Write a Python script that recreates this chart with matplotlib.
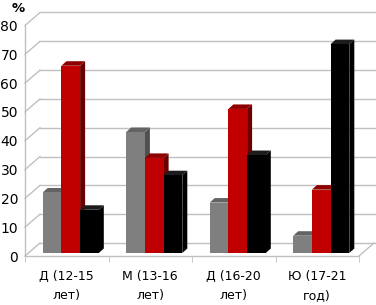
import matplotlib
matplotlib.use('Agg')
import matplotlib.pyplot as plt
from matplotlib.patches import Polygon

# data
categories = ['Д (12-15\nлет)', 'М (13-16\nлет)', 'Д (16-20\nлет)', 'Ю (17-21\nгод)']
gray_vals = [21, 42, 17.5, 6]
red_vals = [65, 33, 50, 22]
black_vals = [15, 27, 34, 72.5]
yticks = [0, 10, 20, 30, 40, 50, 60, 70, 80]

# colours: front, side, top
styles = [('#7f7f7f', '#4f4f4f', '#636363'),
          ('#c00000', '#6a0000', '#8e0000'),
          ('#000000', '#000000', '#1c1c1c')]

W, H = 376, 305
fig = plt.figure(figsize=(W / 100, H / 100), dpi=100)
# front plane of the 3d box in pixels: x 25..359, y 256 (0) .. 25.5 (80)
ax = fig.add_axes([25 / W, (H - 256) / H, 334 / W, 230.5 / H])
ax.set_xlim(0, 4)
ax.set_ylim(0, 80)
for s in ax.spines.values():
    s.set_visible(False)

px = 4 / 334.0        # one pixel in x data units
py = 80 / 230.5       # one pixel in y data units
wx, wy = 15 * px, 13 * py       # wall depth
bx, by = 4 * px, 3 * py         # bar front offset
sx, sy = 5 * px, 4.5 * py       # bar depth
grid = '#c0c0c0'

# back wall and left wall grid lines
for v in yticks:
    ax.plot([wx, 4 + 20 * px], [v + wy, v + wy], color=grid, lw=1, clip_on=False, zorder=1)
    ax.plot([0, wx], [v, v + wy], color=grid, lw=1, clip_on=False, zorder=1)
# front vertical axis, floor
ax.plot([0, 0], [0, 80], color=grid, lw=1, clip_on=False, zorder=1)
ax.plot([0, 4], [0, 0], color=grid, lw=1, clip_on=False, zorder=1)
ax.plot([4, 4 + wx], [0, wy], color=grid, lw=1, clip_on=False, zorder=1)

bw = 0.224
n = 0
for k in range(len(categories)):
    for i, vals in enumerate([gray_vals, red_vals, black_vals]):
        front, side, top = styles[i]
        v = vals[k]
        x0 = k + 0.5 + (i - 1.5) * bw + bx
        x1 = x0 + bw
        y0 = by
        y1 = v + by
        z = 5 + n
        ax.add_patch(Polygon([(x1, y0), (x1 + sx, y0 + sy), (x1 + sx, y1 + sy), (x1, y1)],
                             closed=True, facecolor=side, edgecolor='none', zorder=z, clip_on=False))
        ax.add_patch(Polygon([(x0, y1), (x1, y1), (x1 + sx, y1 + sy), (x0 + sx, y1 + sy)],
                             closed=True, facecolor=top, edgecolor='none', zorder=z, clip_on=False))
        ax.bar(x0, v, width=bw, bottom=by, align='edge', color=front, zorder=z + 0.5, clip_on=False)
        n += 1

ax.set_yticks(yticks)
ax.set_yticklabels([str(t) for t in yticks], fontsize=10)
ax.tick_params(axis='y', length=0, pad=5)
ax.set_xticks([k + 0.5 for k in range(len(categories))])
ax.set_xticklabels(categories, fontsize=9)
for lbl in ax.get_xticklabels():
    lbl.set_linespacing(1.65)
ax.tick_params(axis='x', which='major', length=0, pad=10)
ax.set_xticks([0, 1, 2, 3, 4], minor=True)
ax.tick_params(axis='x', which='minor', length=4, color=grid, direction='out')

fig.text(18 / W, 1 - 9 / H, '%', fontsize=9.5, fontweight='bold', ha='center', va='center')

fig.savefig('out.png', dpi=100)
